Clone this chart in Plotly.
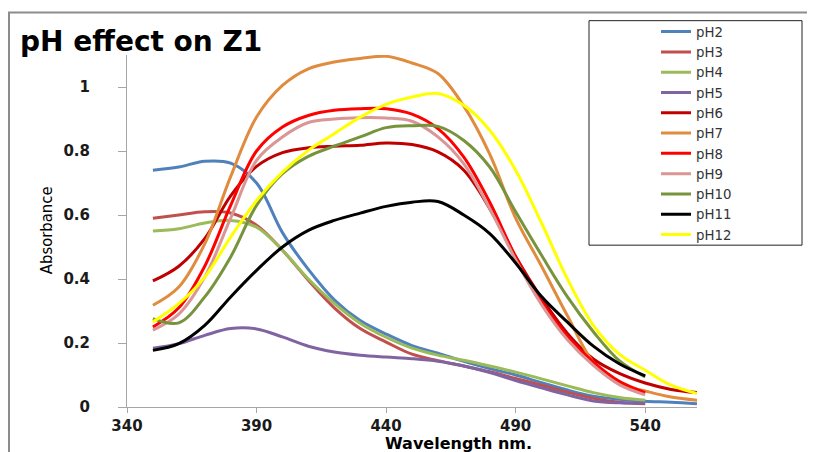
import plotly.graph_objects as go

# ---- data ----
wl_long = [350, 360, 370, 380, 390, 400, 410, 420, 430, 440, 450,
           460, 470, 480, 490, 500, 510, 520, 530, 540, 550, 560]

pH2 = [0.74, 0.75, 0.768, 0.762, 0.70, 0.545, 0.43, 0.335, 0.27, 0.228, 0.192,
       0.168, 0.143, 0.12, 0.10, 0.076, 0.053, 0.034, 0.024, 0.018, 0.015, 0.01]
pH3 = [0.59, 0.60, 0.61, 0.606, 0.568, 0.49, 0.396, 0.31, 0.245, 0.203, 0.165,
       0.145, 0.128, 0.11, 0.089, 0.068, 0.046, 0.027, 0.015, 0.01]
pH4 = [0.55, 0.557, 0.575, 0.583, 0.562, 0.49, 0.40, 0.324, 0.262, 0.218, 0.184,
       0.162, 0.146, 0.128, 0.109, 0.088, 0.066, 0.045, 0.03, 0.021]
pH5 = [0.184, 0.198, 0.224, 0.245, 0.244, 0.219, 0.19, 0.172, 0.162, 0.156, 0.151,
       0.143, 0.128, 0.108, 0.083, 0.06, 0.038, 0.019, 0.013, 0.012]
pH6 = [0.394, 0.44, 0.526, 0.66, 0.752, 0.795, 0.81, 0.815, 0.818, 0.825, 0.82,
       0.797, 0.74, 0.62, 0.47, 0.34, 0.23, 0.15, 0.105, 0.075, 0.055, 0.045]
pH7 = [0.318, 0.375, 0.51, 0.72, 0.906, 1.005, 1.057, 1.078, 1.089, 1.096, 1.075,
       1.042, 0.94, 0.79, 0.59, 0.44, 0.285, 0.14, 0.072, 0.05, 0.031, 0.021]
pH8 = [0.25, 0.31, 0.44, 0.63, 0.80, 0.875, 0.911, 0.927, 0.932, 0.932, 0.915,
       0.87, 0.781, 0.64, 0.47, 0.33, 0.22, 0.14, 0.08, 0.045]
pH9 = [0.24, 0.29, 0.406, 0.59, 0.771, 0.844, 0.889, 0.90, 0.904, 0.903, 0.893,
       0.844, 0.76, 0.62, 0.46, 0.32, 0.21, 0.13, 0.07, 0.038]
pH10 = [0.276, 0.263, 0.344, 0.469, 0.63, 0.729, 0.783, 0.815, 0.844, 0.873, 0.879,
        0.877, 0.833, 0.75, 0.61, 0.474, 0.344, 0.235, 0.145, 0.094]
pH11 = [0.177, 0.198, 0.255, 0.344, 0.427, 0.50, 0.552, 0.583, 0.606, 0.627, 0.64,
        0.642, 0.60, 0.542, 0.45, 0.345, 0.265, 0.19, 0.135, 0.097]
pH12 = [0.266, 0.323, 0.406, 0.531, 0.645, 0.734, 0.802, 0.854, 0.906, 0.946, 0.969,
        0.98, 0.943, 0.865, 0.74, 0.575, 0.40, 0.255, 0.165, 0.115, 0.068, 0.042]

series_names = ["pH2", "pH3", "pH4", "pH5", "pH6", "pH7", "pH8", "pH9", "pH10", "pH11", "pH12"]
series_values = [pH2, pH3, pH4, pH5, pH6, pH7, pH8, pH9, pH10, pH11, pH12]
series_colors = ["#4F81BD", "#C0504D", "#9BBB59", "#8064A2", "#C00000", "#E08B3E",
                 "#FF0000", "#D99694", "#77933C", "#000000", "#FFFF00"]

x_ticks = [340, 390, 440, 490, 540]
y_ticks = [0, 0.2, 0.4, 0.6, 0.8, 1]
y_ticktext = ["0", "0.2", "0.4", "0.6", "0.8", "1"]

title_text = "pH effect on Z1"
x_title = "Wavelength nm."
y_title = "Absorbance"

# ---- figure ----
fig = go.Figure()
for name, vals, col in zip(series_names, series_values, series_colors):
    xs = wl_long[:len(vals)]
    fig.add_trace(go.Scatter(x=xs, y=vals, name=name, mode="lines",
                             line=dict(color=col, width=3, shape="spline", smoothing=1)))

# page places the figure at (8, 8); positions below are given in page pixels
OFF = 8
W, H = 815, 500
plot_left, plot_right, plot_top, plot_bottom = 127, 697, 55, 406.7
L = plot_left - OFF
R = W - (plot_right - OFF)
T = plot_top - OFF
B = H - (plot_bottom - OFF)
pw, ph = W - L - R, H - T - B


def px2x(px):
    return (px - plot_left) / pw


def py2y(py):
    return (plot_bottom - py) / ph


fig.update_layout(
    width=W, height=H,
    margin=dict(l=L, r=R, t=T, b=B, autoexpand=False),
    paper_bgcolor="white", plot_bgcolor="white",
    title=dict(text=title_text, x=(20 - OFF) / W, xanchor="left",
               y=1 - (41 - OFF) / H, yanchor="middle",
               font=dict(family="DejaVu Sans", size=28, color="#000000", weight="bold")),
    showlegend=True,
    legend=dict(x=px2x(656), y=py2y(16.5), xanchor="left", yanchor="top",
                bgcolor="rgba(0,0,0,0)", borderwidth=0,
                font=dict(family="DejaVu Sans", size=13.3, color="#333333"),
                traceorder="normal"),
    xaxis=dict(range=[340, 560], tickvals=x_ticks, ticktext=[str(v) for v in x_ticks],
               showgrid=False, zeroline=False, showline=True, linecolor="#A6A6A6", linewidth=1,
               ticks="outside", ticklen=5, tickcolor="#A6A6A6",
               tickfont=dict(family="DejaVu Sans", size=15, color="#1a1a1a", weight="bold")),
    yaxis=dict(range=[0, 1.1], tickvals=y_ticks, ticktext=y_ticktext,
               showgrid=False, zeroline=False, showline=True, linecolor="#A6A6A6", linewidth=1,
               ticks="outside", ticklen=8, tickcolor="#A6A6A6", ticklabelstandoff=25,
               tickfont=dict(family="DejaVu Sans", size=15, color="#1a1a1a", weight="bold")),
    shapes=[
        # outer chart border
        dict(type="rect", xref="paper", yref="paper",
             x0=px2x(9), x1=px2x(840), y0=py2y(520), y1=py2y(12.5),
             line=dict(color="#8C8C8C", width=2), fillcolor="rgba(0,0,0,0)", layer="below"),
        # legend box
        dict(type="rect", xref="paper", yref="paper",
             x0=px2x(589), x1=px2x(802), y0=py2y(245), y1=py2y(20.7),
             line=dict(color="#222222", width=1), fillcolor="white", layer="below"),
    ],
    annotations=[
        dict(text=x_title, xref="paper", yref="paper", x=px2x(458), y=py2y(443),
             xanchor="center", yanchor="middle", showarrow=False,
             font=dict(family="DejaVu Sans", size=16, color="#000000", weight="bold")),
        dict(text=y_title, xref="paper", yref="paper", x=px2x(46), y=py2y(230),
             xanchor="center", yanchor="middle", showarrow=False, textangle=-90,
             font=dict(family="Liberation Sans Narrow, DejaVu Sans Condensed, sans-serif",
                       size=16.5, color="#000000")),
    ],
)

fig.write_html("out.html")
